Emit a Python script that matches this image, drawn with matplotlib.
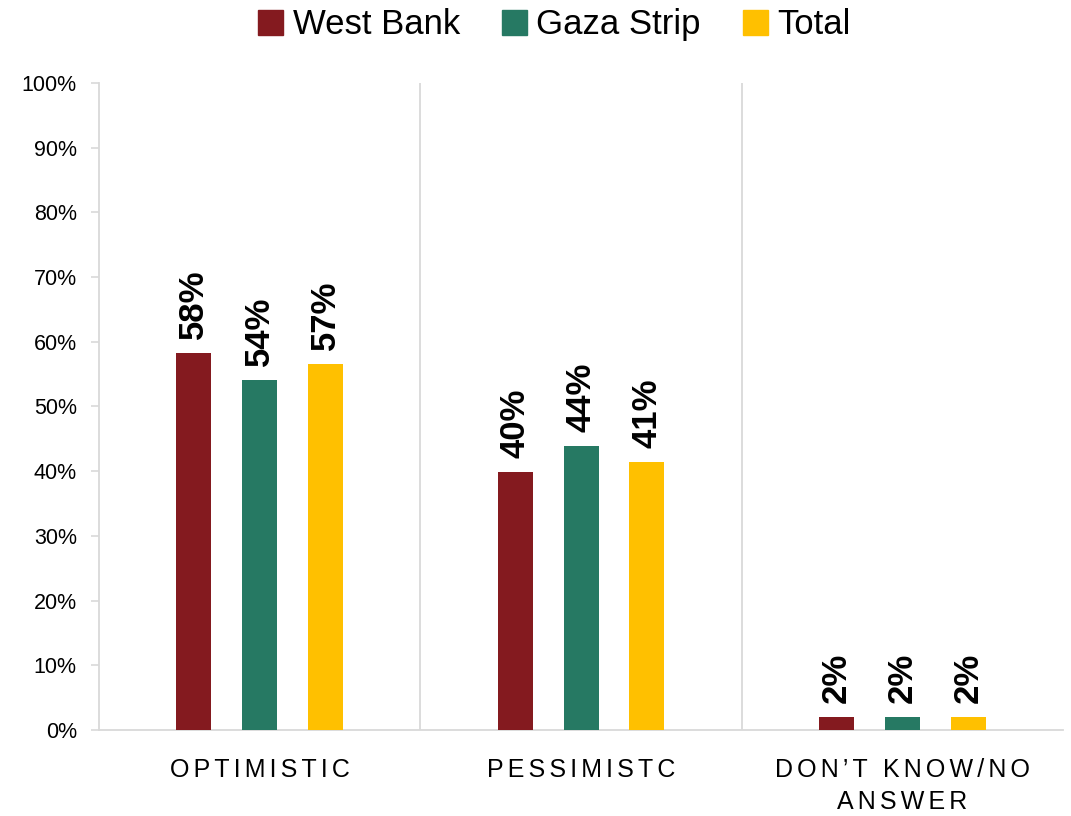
import matplotlib.pyplot as plt
import numpy as np
from matplotlib.lines import Line2D

plt.rcParams["font.family"] = ["Liberation Sans", "DejaVu Sans"]

categories = ["OPTIMISTIC", "PESSIMISTC", "DON\u2019T KNOW/NO\nANSWER"]
series = ["West Bank", "Gaza Strip", "Total"]
west_bank = [58.3, 39.9, 2.0]
gaza_strip = [54.1, 43.9, 2.0]
total = [56.6, 41.4, 2.0]
labels_wb = ["58%", "40%", "2%"]
labels_gs = ["54%", "44%", "2%"]
labels_tot = ["57%", "41%", "2%"]

colors = ["#841A1F", "#267963", "#FFC000"]
grid_c = "#D9D9D9"


def spaced(s):
    # mimic the letter spacing of the original category labels
    return "\n".join("\u2006".join(line) for line in s.split("\n"))


fig = plt.figure(figsize=(10.71, 8.16), dpi=100)
ax = fig.add_axes([0.0925, 0.1054, 0.9001, 0.7929])

x = np.arange(len(categories))
w = 0.109
off = 0.205
for i, (vals, labs) in enumerate(zip([west_bank, gaza_strip, total],
                                    [labels_wb, labels_gs, labels_tot])):
    xs = x + (i - 1) * off
    ax.bar(xs, vals, width=w, color=colors[i], zorder=3)
    for xi, v, lab in zip(xs, vals, labs):
        ax.annotate(lab, (xi, v), xytext=(0, 14), textcoords="offset pixels",
                    rotation=90, ha="center", va="bottom",
                    fontsize=25, fontweight="bold", color="black")

ax.set_xlim(-0.5, 2.5)
ax.set_ylim(0, 100)
ax.set_yticks(np.arange(0, 101, 10))
ax.set_yticklabels([f"{v}%" for v in range(0, 101, 10)], fontsize=15.5)
ax.set_xticks(x)
ax.set_xticklabels([spaced(c) for c in categories], fontsize=18,
                   linespacing=1.45)
ax.tick_params(axis="x", length=0, pad=20)
ax.tick_params(axis="y", length=6, color=grid_c, width=1.2, pad=10)

for sep in [0.5, 1.5]:
    ax.axvline(sep, color=grid_c, linewidth=1.3, zorder=1)

for s in ["top", "right"]:
    ax.spines[s].set_visible(False)
for s in ["left", "bottom"]:
    ax.spines[s].set_color(grid_c)
    ax.spines[s].set_linewidth(1.3)

handles = [Line2D([], [], marker="s", linestyle="none", markersize=18,
                  markerfacecolor=c, markeredgecolor=c) for c in colors]
fig.legend(handles, series, loc="upper center", bbox_to_anchor=(0.516, 1.028),
           ncol=3, frameon=False, fontsize=25, handletextpad=0.2,
           columnspacing=1.1, handlelength=0.9)

fig.savefig("out.png", dpi=100)
